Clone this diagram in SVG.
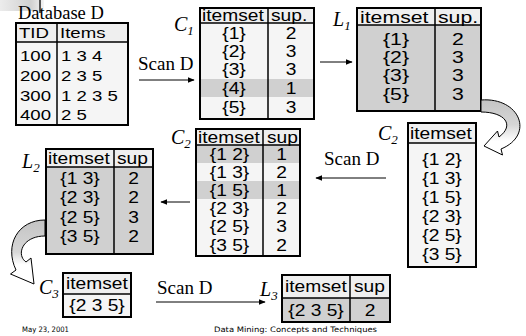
<svg xmlns="http://www.w3.org/2000/svg" width="526" height="336" viewBox="0 0 526 336">
<defs>
<style>
.t{font-family:"Liberation Sans",Arial,sans-serif;font-size:16px;fill:#000}
.t17{font-size:17px}
.t15{font-size:15.5px}
.c{text-anchor:middle}
.s{font-family:"Liberation Serif","Times New Roman",serif;font-size:19px;fill:#000}
.lb{font-family:"Liberation Serif","Times New Roman",serif;font-style:italic;font-size:20px;fill:#000}
.sub{font-size:13px}
.f{font-family:"DejaVu Sans",Verdana,sans-serif;font-size:7.5px;fill:#000}
.bx{fill:none;stroke:#000;stroke-width:2}
.ln{stroke:#000;stroke-width:1.5;fill:none}
.hd{fill:#efefef}
.bd{fill:#f5f5f5}
.gr{fill:#d0d0d0}
.ar{stroke:#000;stroke-width:1;fill:none;marker-end:url(#ah)}
.ca{stroke:#000;stroke-width:1}
</style>
<marker id="ah" viewBox="0 0 10 10" refX="9" refY="5" markerWidth="7" markerHeight="7" orient="auto" markerUnits="userSpaceOnUse"><path d="M0,1 L10,5 L0,9 Z" fill="#000"/></marker>
<linearGradient id="cgR" x1="0" y1="0" x2="0" y2="1"><stop offset="0" stop-color="#c4c4c4"/><stop offset="0.45" stop-color="#d6d6d6"/><stop offset="0.75" stop-color="#ffffff"/></linearGradient>
<linearGradient id="cgL" x1="0" y1="0" x2="0" y2="1"><stop offset="0" stop-color="#c4c4c4"/><stop offset="0.5" stop-color="#d6d6d6"/><stop offset="0.7" stop-color="#ffffff"/></linearGradient>
<linearGradient id="deco" x1="0" y1="0" x2="1" y2="0"><stop offset="0" stop-color="#e4e4e4"/><stop offset="0.7" stop-color="#bdbdbd"/><stop offset="1" stop-color="#f0f0f0"/></linearGradient>
</defs>

<g id="decoration">
<rect x="0" y="0" width="44" height="11" fill="url(#deco)" opacity="0.7"/>
<line x1="40" y1="0" x2="40" y2="13" stroke="#555" stroke-width="2"/>
</g>

<g id="database">
<text class="s" x="18" y="19" style="font-size:18.5px">Database D</text>
<rect class="hd" x="16" y="23" width="112" height="19"/>
<rect class="bd" x="16" y="42" width="112" height="83"/>
<rect class="bx" x="16" y="23" width="112" height="102"/>
<line class="ln" x1="16" y1="42" x2="128" y2="42"/>
<line class="ln" x1="57" y1="23" x2="57" y2="125"/>
<text class="t t15" transform="translate(19,38) scale(1.2,1)">TID</text>
<text class="t t15" transform="translate(60,38) scale(1.2,1)">Items</text>
<text class="t t15" transform="translate(20,60.5) scale(1.2,1)">100</text>
<text class="t t15" transform="translate(61,60.5) scale(1.2,1)">1 3 4</text>
<text class="t t15" transform="translate(20,80.5) scale(1.2,1)">200</text>
<text class="t t15" transform="translate(61,80.5) scale(1.2,1)">2 3 5</text>
<text class="t t15" transform="translate(20,100.5) scale(1.2,1)">300</text>
<text class="t t15" transform="translate(61,100.5) scale(1.2,1)">1 2 3 5</text>
<text class="t t15" transform="translate(20,119.5) scale(1.2,1)">400</text>
<text class="t t15" transform="translate(61,119.5) scale(1.2,1)">2 5</text>
</g>

<g id="C1">
<text class="lb" x="174" y="31">C<tspan class="sub" dy="4">1</tspan></text>
<rect class="hd" x="200" y="8" width="114" height="15"/>
<rect class="bd" x="200" y="23" width="114" height="96"/>
<rect class="gr" x="200" y="79" width="114" height="18"/>
<rect class="bx" x="200" y="8" width="114" height="111"/>
<line class="ln" x1="200" y1="23" x2="314" y2="23"/>
<line class="ln" x1="268" y1="8" x2="268" y2="119"/>
<text class="t" transform="translate(202,21) scale(1.2,1)">itemset</text>
<text class="t" transform="translate(271,21) scale(1.2,1)">sup.</text>
<text class="t c" transform="translate(234,38.5) scale(1.2,1)">{1}</text><text class="t c" transform="translate(291,38.5) scale(1.2,1)">2</text>
<text class="t c" transform="translate(234,56.5) scale(1.2,1)">{2}</text><text class="t c" transform="translate(291,56.5) scale(1.2,1)">3</text>
<text class="t c" transform="translate(234,75) scale(1.2,1)">{3}</text><text class="t c" transform="translate(291,75) scale(1.2,1)">3</text>
<text class="t c" transform="translate(234,93.5) scale(1.2,1)">{4}</text><text class="t c" transform="translate(291,93.5) scale(1.2,1)">1</text>
<text class="t c" transform="translate(234,112.5) scale(1.2,1)">{5}</text><text class="t c" transform="translate(291,112.5) scale(1.2,1)">3</text>
</g>

<g id="L1">
<text class="lb" x="333" y="26">L<tspan class="sub" dy="4">1</tspan></text>
<rect class="hd" x="357" y="8" width="124" height="17"/>
<rect class="gr" x="357" y="25" width="124" height="86"/>
<rect class="bx" x="357" y="8" width="124" height="103"/>
<line class="ln" x1="357" y1="25" x2="481" y2="25"/>
<line class="ln" x1="435" y1="8" x2="435" y2="111"/>
<text class="t t17" transform="translate(360,22.5) scale(1.25,1)">itemset</text>
<text class="t t17" transform="translate(438,22.5) scale(1.25,1)">sup.</text>
<text class="t t17 c" transform="translate(396,45) scale(1.25,1)">{1}</text><text class="t t17 c" transform="translate(458,45) scale(1.25,1)">2</text>
<text class="t t17 c" transform="translate(396,63) scale(1.25,1)">{2}</text><text class="t t17 c" transform="translate(458,63) scale(1.25,1)">3</text>
<text class="t t17 c" transform="translate(396,81) scale(1.25,1)">{3}</text><text class="t t17 c" transform="translate(458,81) scale(1.25,1)">3</text>
<text class="t t17 c" transform="translate(396,100) scale(1.25,1)">{5}</text><text class="t t17 c" transform="translate(458,100) scale(1.25,1)">3</text>
</g>

<g id="C2-candidates">
<text class="lb" x="378" y="140">C<tspan class="sub" dy="4">2</tspan></text>
<rect class="hd" x="408" y="123" width="68" height="20"/>
<rect class="bd" x="408" y="143" width="68" height="124"/>
<rect class="bx" x="408" y="123" width="68" height="144"/>
<line class="ln" x1="408" y1="143" x2="476" y2="143"/>
<text class="t" transform="translate(410,138.5) scale(1.2,1)">itemset</text>
<text class="t c" transform="translate(442,164.5) scale(1.2,1)">{1 2}</text>
<text class="t c" transform="translate(442,183.5) scale(1.2,1)">{1 3}</text>
<text class="t c" transform="translate(442,202.5) scale(1.2,1)">{1 5}</text>
<text class="t c" transform="translate(442,221.5) scale(1.2,1)">{2 3}</text>
<text class="t c" transform="translate(442,240.5) scale(1.2,1)">{2 5}</text>
<text class="t c" transform="translate(442,259.5) scale(1.2,1)">{3 5}</text>
</g>

<g id="C2-counts">
<text class="lb" x="171" y="144">C<tspan class="sub" dy="4">2</tspan></text>
<rect class="hd" x="196" y="129" width="104" height="16"/>
<rect class="bd" x="196" y="145" width="104" height="111"/>
<rect class="gr" x="196" y="145" width="104" height="18"/>
<rect class="gr" x="196" y="181" width="104" height="18"/>
<rect class="bx" x="196" y="129" width="104" height="127"/>
<line class="ln" x1="196" y1="145" x2="300" y2="145"/>
<line class="ln" x1="263" y1="129" x2="263" y2="256"/>
<text class="t" transform="translate(198,142.5) scale(1.2,1)">itemset</text>
<text class="t" transform="translate(267,142.5) scale(1.2,1)">sup</text>
<text class="t c" transform="translate(229.5,159.5) scale(1.2,1)">{1 2}</text><text class="t c" transform="translate(281.5,159.5) scale(1.2,1)">1</text>
<text class="t c" transform="translate(229.5,177.5) scale(1.2,1)">{1 3}</text><text class="t c" transform="translate(281.5,177.5) scale(1.2,1)">2</text>
<text class="t c" transform="translate(229.5,195.5) scale(1.2,1)">{1 5}</text><text class="t c" transform="translate(281.5,195.5) scale(1.2,1)">1</text>
<text class="t c" transform="translate(229.5,213.5) scale(1.2,1)">{2 3}</text><text class="t c" transform="translate(281.5,213.5) scale(1.2,1)">2</text>
<text class="t c" transform="translate(229.5,231.5) scale(1.2,1)">{2 5}</text><text class="t c" transform="translate(281.5,231.5) scale(1.2,1)">3</text>
<text class="t c" transform="translate(229.5,250.5) scale(1.2,1)">{3 5}</text><text class="t c" transform="translate(281.5,250.5) scale(1.2,1)">2</text>
</g>

<g id="L2">
<text class="lb" x="22" y="168">L<tspan class="sub" dy="4">2</tspan></text>
<rect class="hd" x="46" y="149" width="107" height="18"/>
<rect class="gr" x="46" y="167" width="107" height="87"/>
<rect class="bx" x="46" y="149" width="107" height="105"/>
<line class="ln" x1="46" y1="167" x2="153" y2="167"/>
<line class="ln" x1="114" y1="149" x2="114" y2="254"/>
<text class="t" transform="translate(48,163.5) scale(1.2,1)">itemset</text>
<text class="t" transform="translate(117,163.5) scale(1.2,1)">sup</text>
<text class="t c" transform="translate(80,183.5) scale(1.2,1)">{1 3}</text><text class="t c" transform="translate(133.5,183.5) scale(1.2,1)">2</text>
<text class="t c" transform="translate(80,203) scale(1.2,1)">{2 3}</text><text class="t c" transform="translate(133.5,203) scale(1.2,1)">2</text>
<text class="t c" transform="translate(80,222.5) scale(1.2,1)">{2 5}</text><text class="t c" transform="translate(133.5,222.5) scale(1.2,1)">3</text>
<text class="t c" transform="translate(80,242) scale(1.2,1)">{3 5}</text><text class="t c" transform="translate(133.5,242) scale(1.2,1)">2</text>
</g>

<g id="C3">
<text class="lb" x="39" y="294">C<tspan class="sub" dy="4">3</tspan></text>
<rect class="hd" x="63" y="273" width="68" height="21"/>
<rect class="bd" x="63" y="294" width="68" height="23"/>
<rect class="bx" x="63" y="273" width="68" height="44"/>
<line class="ln" x1="63" y1="294" x2="131" y2="294"/>
<text class="t" transform="translate(66,289) scale(1.2,1)">itemset</text>
<text class="t c" transform="translate(97,311) scale(1.2,1)">{2 3 5}</text>
</g>

<g id="L3">
<text class="lb" x="260" y="296">L<tspan class="sub" dy="4">3</tspan></text>
<rect class="hd" x="282" y="275" width="108" height="23"/>
<rect class="gr" x="282" y="298" width="108" height="24"/>
<rect class="bx" x="282" y="275" width="108" height="47"/>
<line class="ln" x1="282" y1="298" x2="390" y2="298"/>
<line class="ln" x1="350" y1="275" x2="350" y2="322"/>
<text class="t" transform="translate(285,292) scale(1.2,1)">itemset</text>
<text class="t" transform="translate(354,292) scale(1.2,1)">sup</text>
<text class="t c" transform="translate(316,315.5) scale(1.2,1)">{2 3 5}</text><text class="t c" transform="translate(370,315.5) scale(1.2,1)">2</text>
</g>

<g id="connectors">
<text class="s" x="138" y="70">Scan D</text>
<line class="ar" x1="139" y1="80" x2="194" y2="80"/>
<line class="ar" x1="320" y1="62" x2="352" y2="62"/>
<text class="s" x="324" y="165">Scan D</text>
<line class="ar" x1="386" y1="178" x2="316" y2="178"/>
<line class="ar" x1="190" y1="202" x2="161" y2="202"/>
<text class="s" x="157" y="294">Scan D</text>
<line class="ar" x1="156" y1="302" x2="265" y2="302"/>
<path class="ca" fill="url(#cgR)" d="M481,100 C520,97 535,135 501,149 L502.5,155 L484,146 L497.5,131 L499,137 C515,125 505,112 481,112 Z"/>
<path class="ca" fill="url(#cgL)" d="M45,220 C18,220 4,245 16,270 L10.5,274 L34,284 L31,258 L26,262 C16,255 22,236 45,236 Z"/>
</g>

<g id="footer">
<text class="f" x="22" y="332" textLength="47" lengthAdjust="spacingAndGlyphs">May 23, 2001</text>
<text class="f" x="214" y="332" textLength="163" lengthAdjust="spacingAndGlyphs">Data Mining: Concepts and Techniques</text>
</g>
</svg>
